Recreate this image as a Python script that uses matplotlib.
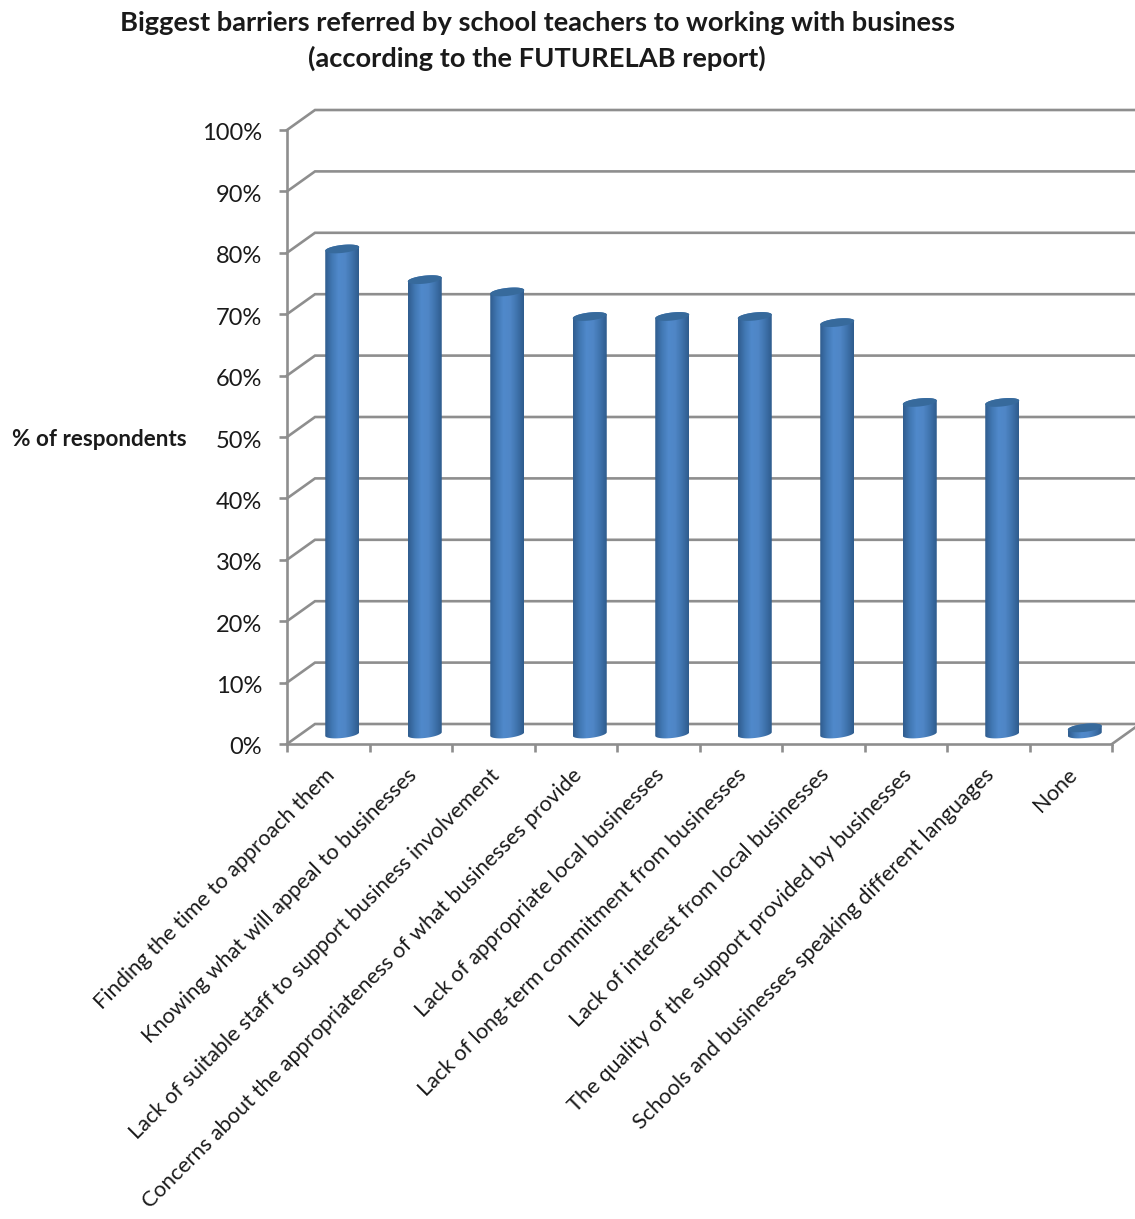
import numpy as np
import matplotlib
matplotlib.use("Agg")
import matplotlib.pyplot as plt
from matplotlib.colors import LinearSegmentedColormap
from matplotlib.patches import Polygon
from matplotlib.transforms import ScaledTranslation

plt.rcParams['font.family'] = ['Lato', 'DejaVu Sans']

categories = [
    "Finding the time to approach them",
    "Knowing what will appeal to businesses",
    "Lack of suitable staff to support business involvement",
    "Concerns about the appropriateness of what businesses provide",
    "Lack of appropriate local businesses",
    "Lack of long-term commitment from businesses",
    "Lack of interest from local businesses",
    "The quality of the support provided by businesses",
    "Schools and businesses speaking different languages",
    "None",
]
values = [79, 74, 72, 68, 68, 68, 67, 54, 54, 1]
y_ticks = [0, 10, 20, 30, 40, 50, 60, 70, 80, 90, 100]

W, H = 1135, 1219
fig = plt.figure(figsize=(W / 100, H / 100), dpi=100)

# axes run from the front corner of the fake 3D floor to the image edge
left, right, bottom, top = 287, 1135, 744, 130
ax = fig.add_axes([left / W, 1 - bottom / H, (right - left) / W, (bottom - top) / H])

px_x = 82.5              # pixels per category
px_y = (bottom - top) / 100  # pixels per percent
depth_x = 28 / px_x
depth_y = 20 / px_y

grid_col = "#8e8e8e"
edge_w = 1.9

# back wall lines and the diagonals to the front axis
for v in y_ticks:
    ax.plot([0, depth_x, 11], [v, v + depth_y, v + depth_y], color=grid_col,
            lw=edge_w, clip_on=False, zorder=1, solid_joinstyle="miter")
ax.plot([10, 10 + depth_x], [0, depth_y], color=grid_col, lw=edge_w, clip_on=True, zorder=1)

bar_cmap = LinearSegmentedColormap.from_list(
    "cyl", ["#305d8f", "#4178b3", "#5089cb", "#4f86c6", "#3f73ad", "#2f5c8d"])
half_w = 17 / px_x
half_h = 4 / px_y
tilt = 1.8 / px_y


def ellipse(cx, cy, t):
    return cx + half_w * np.cos(t), cy + half_h * np.sin(t) + tilt * np.cos(t)


for i, v in enumerate(values):
    cx = i + 0.5 + depth_x / 2
    base = depth_y / 2
    tip = v + depth_y / 2

    # body: lower half of the bottom ellipse joined to the top ellipse
    t_low = np.linspace(np.pi, 2 * np.pi, 40)
    t_up = np.linspace(0, np.pi, 40)
    xb, yb = ellipse(cx, base, t_low)
    xt, yt = ellipse(cx, tip, t_up)
    body = Polygon(np.column_stack([np.r_[xb, xt], np.r_[yb, yt]]),
                   closed=True, transform=ax.transData, fc="none", ec="none")
    ax.add_patch(body)
    im = ax.imshow(np.linspace(0, 1, 64).reshape(1, -1), cmap=bar_cmap, aspect="auto",
                   extent=[cx - half_w, cx + half_w, base - 3, tip + 3],
                   zorder=3, interpolation="bilinear")
    im.set_clip_path(body)

    # top cap
    t_all = np.linspace(0, 2 * np.pi, 80)
    xc, yc = ellipse(cx, tip, t_all)
    ax.fill(xc, yc, color="#376a9c", lw=0, zorder=4)

ax.set_xlim(0, (right - left) / px_x)
ax.set_ylim(0, 100)
ax.patch.set_visible(False)

for s in ["top", "right"]:
    ax.spines[s].set_visible(False)
for s in ["left", "bottom"]:
    ax.spines[s].set_color(grid_col)
    ax.spines[s].set_linewidth(edge_w)
ax.spines["bottom"].set_bounds(0, 10)

ax.set_yticks(y_ticks)
ax.set_yticklabels([f"{v}%" for v in y_ticks], fontsize=17, color="#1a1a1a")
ax.tick_params(axis="y", length=6, width=edge_w, color=grid_col, pad=12)
# labels sit a touch under their ticks
for lab in ax.get_yticklabels():
    lab.set_transform(lab.get_transform() + ScaledTranslation(0, -2 / 100, fig.dpi_scale_trans))

ax.set_xticks(np.arange(0, 11))
ax.set_xticklabels([])
ax.tick_params(axis="x", which="major", length=6, width=edge_w, color=grid_col)
ax.set_xticks(np.arange(10) + 0.45, minor=True)
ax.set_xticklabels(categories, minor=True, rotation=45, ha="right", va="top",
                   rotation_mode="anchor", fontsize=15.7, color="#1a1a1a")
ax.tick_params(axis="x", which="minor", length=0, pad=15)

fig.text(537 / W, 1 - 41 / H,
         "Biggest barriers referred by school teachers to working with business\n"
         "(according to the FUTURELAB report)",
         ha="center", va="center", fontsize=19.6, fontweight="bold",
         color="#1a1a1a", linespacing=1.5)
fig.text(12 / W, 1 - 439 / H, "% of respondents", ha="left", va="center",
         fontsize=16.2, fontweight="bold", color="#1a1a1a")

fig.savefig("out.png", dpi=100, facecolor="white")
